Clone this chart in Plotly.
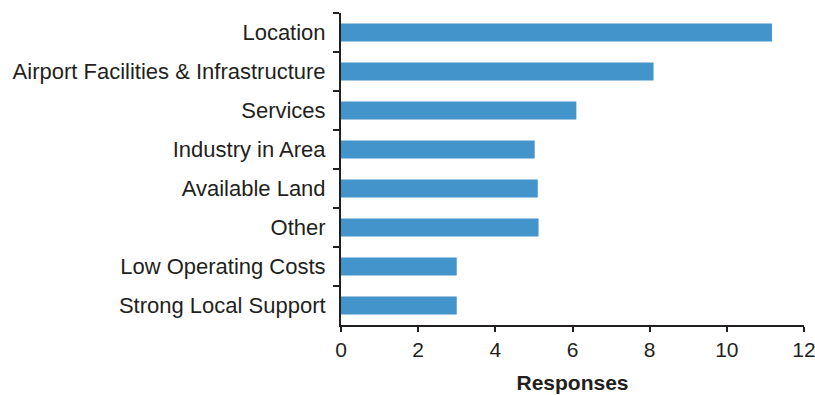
import plotly.graph_objects as go

categories = ["Location", "Airport Facilities & Infrastructure", "Services",
              "Industry in Area", "Available Land", "Other",
              "Low Operating Costs", "Strong Local Support"]
responses = [11.17, 8.1, 6.1, 5.02, 5.1, 5.12, 3.0, 3.0]
x_ticks = [0, 2, 4, 6, 8, 10, 12]

fig = go.Figure(go.Bar(
    y=categories, x=responses, orientation="h",
    marker=dict(color="#4494CC", line=dict(width=0)),
    width=0.46,
))

font_family = "Liberation Sans, Arial, Helvetica, sans-serif"
fig.update_layout(
    width=815, height=395,
    margin=dict(l=341, r=11, t=13, b=70, autoexpand=False),
    plot_bgcolor="white", paper_bgcolor="white",
    font=dict(family=font_family, size=21, color="#231F20"),
    showlegend=False,
)
fig.update_xaxes(
    range=[0, 12], tickvals=x_ticks, ticks="outside", ticklen=5, tickwidth=2,
    tickcolor="#231F20", showline=True, linecolor="#231F20", linewidth=2,
    showgrid=False, zeroline=False, automargin=False,
    tickfont=dict(size=21), ticklabeloverflow="allow",
    title=dict(text="<b>Responses</b>", font=dict(size=21), standoff=15),
)
fig.update_yaxes(
    categoryorder="array", categoryarray=categories, autorange="reversed",
    tickson="boundaries", ticks="outside", ticklen=6, tickwidth=2,
    tickcolor="#231F20", showline=True, linecolor="#231F20", linewidth=2,
    showgrid=False, zeroline=False, automargin=False,
    tickfont=dict(size=22), ticklabelstandoff=9,
)
fig.write_html(
    "out.html",
    config={"displayModeBar": False},
    post_script="document.body.style.margin='0';document.body.style.overflow='hidden';",
)
